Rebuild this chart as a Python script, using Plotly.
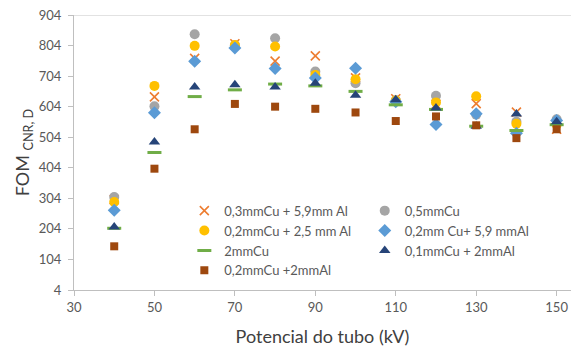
import plotly.graph_objects as go

kv = [40, 50, 60, 70, 80, 90, 100, 110, 120, 130, 140, 150]

s_03cu_59al = [300, 636, 762, 810, 753, 770, 698, 630, 612, 614, 586, 530]
s_05cu = [308, 605, 841, 805, 828, 719, 681, 625, 640, 578, 555, 563]
s_02cu_25al = [292, 672, 803, 806, 801, 708, 694, 624, 618, 638, 548, 545]
s_02cu_59al = [265, 584, 753, 796, 729, 698, 730, 620, 546, 581, 517, 559]
s_2cu = [206, 454, 637, 659, 678, 672, 654, 610, 595, 540, 526, 545]
s_01cu_2al = [210, 488, 668, 676, 668, 681, 641, 627, 600, 540, 580, 555]
s_02cu_2al = [147, 401, 530, 613, 604, 597, 585, 557, 572, 543, 501, 530]

names = ["0,3mmCu + 5,9mm Al", "0,5mmCu", "0,2mmCu + 2,5 mm Al",
         "0,2mm Cu+ 5,9 mmAl", "2mmCu", "0,1mmCu + 2mmAl", "0,2mmCu +2mmAl"]
series = [s_03cu_59al, s_05cu, s_02cu_25al, s_02cu_59al, s_2cu, s_01cu_2al, s_02cu_2al]
colors = ["#ED7D31", "#A5A5A5", "#FFC000", "#5B9BD5", "#70AD47", "#264478", "#9E480E"]
symbols = ["x-thin", "circle", "circle", "diamond", "line-ew", "triangle-up", "square"]
sizes = [9, 10, 10, 10, 10, 10, 8]
legends = ["legend", "legend2", "legend", "legend2", "legend", "legend2", "legend"]

y_ticks = [4, 104, 204, 304, 404, 504, 604, 704, 804, 904]
x_ticks = [30, 50, 70, 90, 110, 130, 150]

fig = go.Figure()
for i in range(len(series)):
    sym = symbols[i]
    if sym == "x-thin":
        marker = dict(symbol=sym, size=sizes[i], color=colors[i],
                      line=dict(color=colors[i], width=1.6))
    elif sym == "line-ew":
        marker = dict(symbol=sym, size=sizes[i], color=colors[i],
                      line=dict(color=colors[i], width=3))
    else:
        marker = dict(symbol=sym, size=sizes[i], color=colors[i], line=dict(width=0))
    fig.add_trace(go.Scatter(x=kv, y=series[i], mode="markers", name=names[i],
                             marker=marker, legend=legends[i],
                             legendrank=i + 1))

axis_col = "#BFBFBF"
txt_col = "#595959"

fig.update_layout(
    width=571, height=349,
    margin=dict(l=73.5, r=0, t=15, b=58.5),
    paper_bgcolor="white", plot_bgcolor="white",
    font=dict(family="Lato", color=txt_col, size=13),
    xaxis=dict(range=[30, 153.57], tickvals=x_ticks, ticktext=[str(v) for v in x_ticks],
               showgrid=False, zeroline=False, showline=True, linecolor=axis_col,
               linewidth=1, ticks="outside", ticklen=5, tickcolor=axis_col,
               tickfont=dict(size=13, color=txt_col),
               title=dict(text="Potencial do tubo (kV)", font=dict(size=18, color="#404040"),
                          standoff=16)),
    yaxis=dict(range=[4, 904], tickvals=y_ticks, ticktext=[str(v) for v in y_ticks],
               showgrid=False, zeroline=False, showline=True, linecolor=axis_col,
               linewidth=1, ticks="outside", ticklen=5, tickcolor=axis_col,
               ticklabelstandoff=4,
               tickfont=dict(size=13, color=txt_col),
               title=dict(text="FOM <sub>CNR, D</sub>", font=dict(size=18, color="#404040"),
                          standoff=4)),
    legend=dict(x=0.222, y=0.343, xanchor="left", yanchor="top", orientation="v",
                bgcolor="rgba(0,0,0,0)", font=dict(size=13, color=txt_col),
                tracegroupgap=0, itemwidth=30),
    legend2=dict(x=0.585, y=0.343, xanchor="left", yanchor="top", orientation="v",
                 bgcolor="rgba(0,0,0,0)", font=dict(size=13, color=txt_col),
                 tracegroupgap=0, itemwidth=30),
    shapes=[dict(type="line", xref="paper", yref="y", x0=0, x1=1, y0=904, y1=904,
                 line=dict(color="#D9D9D9", width=1.5), layer="below")],
)

fig.write_html("out.html")
